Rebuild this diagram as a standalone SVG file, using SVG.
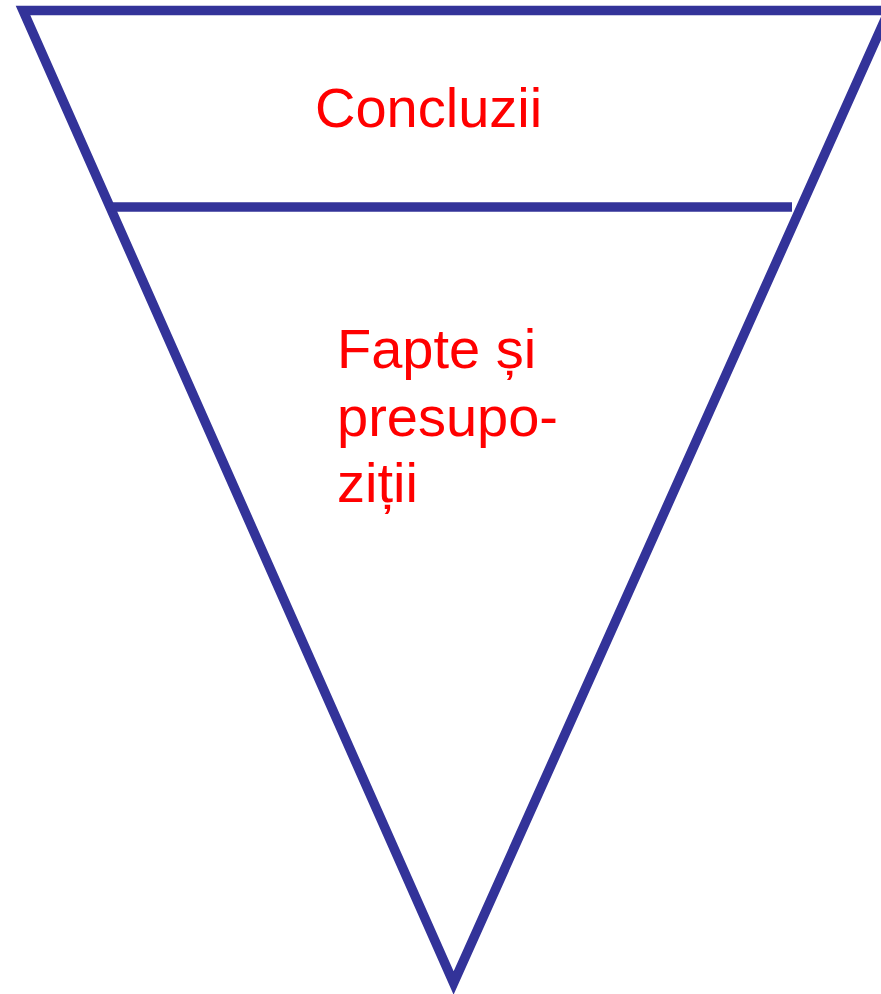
<svg xmlns="http://www.w3.org/2000/svg" width="881" height="994" viewBox="0 0 881 994">
<style>
.edge{fill:none;stroke:#333399;stroke-width:9.5;stroke-linejoin:miter;stroke-miterlimit:10;stroke-linecap:butt}
.lbl{font-family:"Liberation Sans",Arial,sans-serif;font-size:56px;fill:#ff0000}
</style>
<rect width="881" height="994" fill="#ffffff"/>
<g id="triangle">
<polygon class="edge" points="23,10.5 889,10.5 453.6,983"/>
</g>
<g id="connectors">
<line class="edge" x1="108" y1="207" x2="792" y2="207"/>
</g>
<g id="concluzii">
<text class="lbl" x="315" y="127">Concluzii</text>
</g>
<g id="fapte">
<text class="lbl" x="337" y="368">Fapte și</text>
<text class="lbl" x="337" y="436">presupo-</text>
<text class="lbl" x="337" y="502">ziții</text>
</g>
</svg>
